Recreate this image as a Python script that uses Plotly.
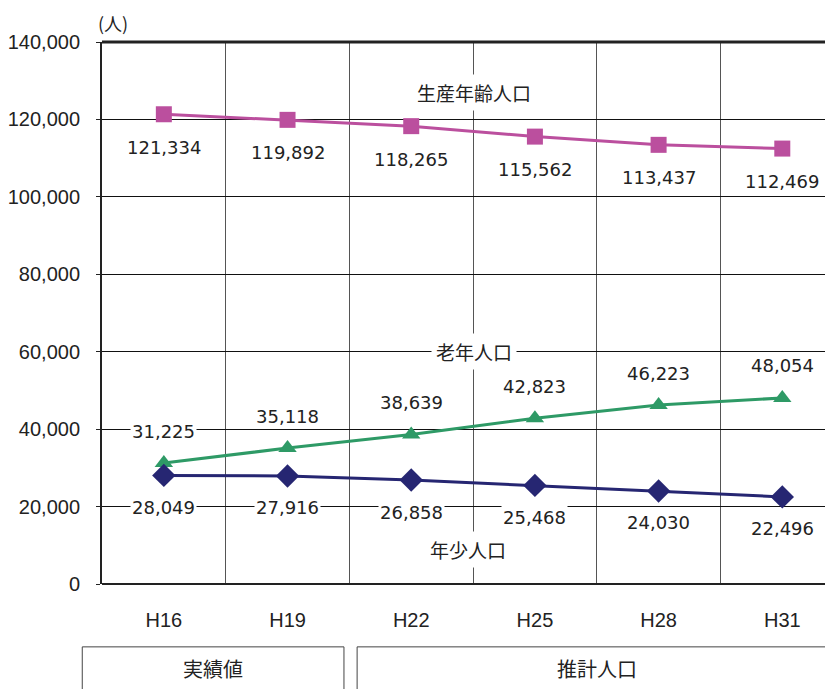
import plotly.graph_objects as go

categories = ["H16", "H19", "H22", "H25", "H28", "H31"]
working_age = [121334, 119892, 118265, 115562, 113437, 112469]
elderly = [31225, 35118, 38639, 42823, 46223, 48054]
young = [28049, 27916, 26858, 25468, 24030, 22496]
y_ticks = [0, 20000, 40000, 60000, 80000, 100000, 120000, 140000]

C_WORK = "#BB4F9E"
C_OLD = "#2E9A66"
C_YOUNG = "#262672"
TXT = "#222222"
FONT = "Liberation Sans Narrow, Liberation Sans, Arial, sans-serif"
JFONT = "Noto Sans CJK JP, sans-serif"

fig = go.Figure()
fig.add_trace(go.Scatter(x=categories, y=working_age, mode="lines+markers",
                         line=dict(color=C_WORK, width=3),
                         marker=dict(symbol="square", size=16, color=C_WORK)))
fig.add_trace(go.Scatter(x=categories, y=elderly, mode="lines+markers",
                         line=dict(color=C_OLD, width=3),
                         marker=dict(symbol="triangle-up", size=16, color=C_OLD)))
fig.add_trace(go.Scatter(x=categories, y=young, mode="lines+markers",
                         line=dict(color=C_YOUNG, width=3),
                         marker=dict(symbol="diamond", size=18, color=C_YOUNG)))

ann = []
def lab(x, y, shift):
    ann.append(dict(x=x, y=y, xref="x", yref="y", text=f"{y:,}", showarrow=False,
                    yshift=shift, bgcolor="white", borderpad=1,
                    font=dict(family="DejaVu Sans, sans-serif", size=18, color=TXT)))

for c, v in zip(categories, working_age):
    lab(c, v, -33)
for c, v in zip(categories, elderly):
    lab(c, v, 32)
for c, v in zip(categories, young):
    lab(c, v, -32)

# series names
for text, c, v, dx in [("生産年齢人口", "H22", 127000, 63),
                       ("老年人口", "H22", 60000, 63),
                       ("年少人口", "H22", 8800, 57)]:
    ann.append(dict(x=c, y=v, xref="x", yref="y", text=text, showarrow=False,
                    xshift=dx, bgcolor="white", borderpad=4,
                    font=dict(family=JFONT, size=19, color=TXT)))

# unit label
ann.append(dict(x=-0.008, y=1.0, xref="paper", yref="paper", text="(人)",
                showarrow=False, xanchor="left", yanchor="bottom", yshift=4,
                font=dict(family=JFONT, size=18, color=TXT)))
# group labels under the axis
ann.append(dict(x=0.152, y=-0.155, xref="paper", yref="paper", text="実績値",
                xanchor="center", yanchor="middle",
                showarrow=False, font=dict(family=JFONT, size=20, color=TXT)))
ann.append(dict(x=0.677, y=-0.155, xref="paper", yref="paper", text="推計人口",
                xanchor="center", yanchor="middle",
                showarrow=False, font=dict(family=JFONT, size=20, color=TXT)))
fig.update_layout(annotations=ann)

fig.add_shape(type="rect", xref="paper", yref="paper", x0=-0.027, x1=0.331,
              y0=-0.25, y1=-0.116, line=dict(color="#444", width=1))
fig.add_shape(type="rect", xref="paper", yref="paper", x0=0.349, x1=1.05,
              y0=-0.25, y1=-0.116, line=dict(color="#444", width=1))
fig.add_shape(type="line", xref="paper", yref="paper", x0=0, x1=1, y0=1, y1=1,
              line=dict(color="#222222", width=3))

# page body has an 8px margin, so the figure is 8px smaller on each axis
fig.update_layout(
    width=825, height=681,
    margin=dict(l=94, r=0, t=34, b=105, autoexpand=False),
    paper_bgcolor="white", plot_bgcolor="white",
    showlegend=False,
    xaxis=dict(type="category", range=[-0.5, 5.41], tickson="boundaries",
               showgrid=True, gridcolor="#555555", gridwidth=1,
               ticks="", ticklen=0, showline=False, zeroline=False,
               tickfont=dict(family=FONT, size=20, color=TXT),
               ticklabelstandoff=22),
    yaxis=dict(range=[0, 140000], tickvals=y_ticks, tickformat=",",
               showgrid=True, gridcolor="#111111", gridwidth=1,
               showline=True, linecolor="#222222", linewidth=2,
               ticks="outside", ticklen=4, tickcolor="#222222",
               ticklabelstandoff=12,
               zeroline=True, zerolinecolor="#222222", zerolinewidth=2,
               tickfont=dict(family=FONT, size=20, color=TXT)),
)

fig.write_html("out.html")
